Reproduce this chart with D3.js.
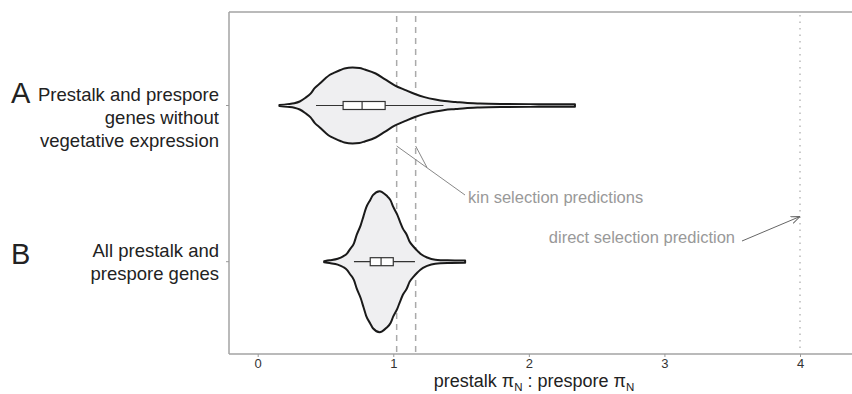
<!DOCTYPE html>
<html>
<head>
<meta charset="utf-8">
<script src="https://d3js.org/d3.v7.min.js"></script>
<style>
  body { margin: 0; background: #fff; }
  svg { display: block; font-family: "Liberation Sans", Arial, sans-serif; }
</style>
</head>
<body>
<svg id="chart"></svg>
<script>
//// DATA

// groups on the y axis, top to bottom
const groups = ["A", "B"];
const groupLabels = [
    ["Prestalk and prespore", "genes without", "vegetative expression"],
    ["All prestalk and", "prespore genes"]
];

// x axis
const xTicks = [0, 1, 2, 3, 4];
const xDomain = [0, 4];

// violin outlines: ratio value and density
const violinA_x = [0.16, 0.22, 0.27, 0.31, 0.35, 0.39, 0.42, 0.46, 0.50, 0.53, 0.57, 0.61, 0.64, 0.70, 0.75,
    0.79, 0.87, 0.94, 1.01, 1.09, 1.16, 1.23, 1.31, 1.38, 1.46, 1.53, 1.64, 1.79, 2.01, 2.34];
const violinA_density = [0, 0.04, 0.08, 0.16, 0.32, 0.52, 0.77, 0.99, 1.22, 1.37, 1.49, 1.60, 1.67, 1.71, 1.69,
    1.62, 1.44, 1.17, 0.90, 0.68, 0.50, 0.36, 0.25, 0.18, 0.14, 0.10, 0.07, 0.05, 0.04, 0.03];

const violinB_x = [0.49, 0.53, 0.59, 0.63, 0.66, 0.68, 0.71, 0.73, 0.76, 0.78, 0.80, 0.83, 0.85, 0.90, 0.92,
    0.95, 0.98, 1.00, 1.03, 1.05, 1.07, 1.10, 1.12, 1.15, 1.18, 1.20, 1.25, 1.31, 1.40, 1.53];
const violinB_density = [0, 0.04, 0.11, 0.22, 0.36, 0.54, 0.82, 1.20, 1.65, 2.05, 2.45, 2.80, 3.02, 3.20, 3.15,
    3.00, 2.78, 2.48, 2.12, 1.80, 1.50, 1.20, 0.90, 0.66, 0.46, 0.34, 0.17, 0.07, 0.04, 0.03];

// box plot stats per group
const whiskerLow = [0.43, 0.71];
const quartile1 = [0.63, 0.83];
const medians = [0.77, 0.91];
const quartile3 = [0.94, 1.00];
const whiskerHigh = [1.37, 1.16];

// reference lines
const kinPredictions = [1.025, 1.165];
const directPrediction = [4];


//// SETTINGS
const width = 852;
const height = 394;
const panel = { left: 229, top: 12, bottom: 354, right: 870 };

const svg = d3.select("#chart").attr("width", width).attr("height", height);

const x = d3.scaleLinear().domain(xDomain).range([257.7, 800]);
const y = d3.scalePoint().domain(groups).range([105.5, 261.7]);
const w = d3.scaleLinear().domain([0, 3.2]).range([0, 70]);

const violins = [
    d3.zip(violinA_x, violinA_density),
    d3.zip(violinB_x, violinB_density)
];


//// FUNCTION CALLS
drawPanel();
drawReferenceLines();
drawViolins();
drawBoxes();
drawAxes();
drawAnnotations();


//// FUNCTIONS
function drawPanel() {
    const g = svg.append("g").attr("class", "panel");
    g.append("line")
        .attr("x1", panel.left).attr("x2", panel.right)
        .attr("y1", panel.top).attr("y2", panel.top);
    g.append("line")
        .attr("x1", panel.left).attr("x2", panel.right)
        .attr("y1", panel.bottom).attr("y2", panel.bottom);
    g.append("line")
        .attr("x1", panel.left).attr("x2", panel.left)
        .attr("y1", panel.top).attr("y2", panel.bottom);
    g.selectAll("line")
        .style("stroke", "#a3a3a3")
        .style("stroke-width", "1.5px");
}

function drawReferenceLines() {
    svg.selectAll(".kin")
        .data(kinPredictions)
        .enter()
        .append("line")
        .attr("class", "kin")
        .attr("x1", d => x(d)).attr("x2", d => x(d))
        .attr("y1", panel.top + 4).attr("y2", panel.bottom)
        .style("stroke", "#aaa")
        .style("stroke-width", "1.5px")
        .style("stroke-dasharray", "6,5");

    svg.selectAll(".direct")
        .data(directPrediction)
        .enter()
        .append("line")
        .attr("class", "direct")
        .attr("x1", d => x(d)).attr("x2", d => x(d))
        .attr("y1", panel.top + 3).attr("y2", panel.bottom)
        .style("stroke", "#bbb")
        .style("stroke-width", "1.5px")
        .style("stroke-dasharray", "1.5,5");
}

function drawViolins() {
    violins.forEach(function (pts, i) {
        const yc = y(groups[i]);
        const area = d3.area()
            .x(d => x(d[0]))
            .y0(d => yc + w(d[1]) + 0.5)
            .y1(d => yc - w(d[1]) - 0.5)
            .curve(d3.curveMonotoneX);
        svg.append("path")
            .datum(pts)
            .attr("class", "violin")
            .attr("d", area)
            .style("fill", "#efeff1")
            .style("stroke", "#1a1a1a")
            .style("stroke-width", "2px")
            .style("stroke-linejoin", "round");
    });
}

function drawBoxes() {
    const boxH = 8;
    groups.forEach(function (grp, i) {
        const yc = y(grp);
        const g = svg.append("g").attr("class", "box");
        g.append("line")
            .attr("x1", x(whiskerLow[i])).attr("x2", x(whiskerHigh[i]))
            .attr("y1", yc).attr("y2", yc);
        g.append("rect")
            .attr("x", x(quartile1[i]))
            .attr("y", yc - boxH / 2)
            .attr("width", x(quartile3[i]) - x(quartile1[i]))
            .attr("height", boxH)
            .style("fill", "#fff");
        g.append("line")
            .attr("x1", x(medians[i])).attr("x2", x(medians[i]))
            .attr("y1", yc - boxH / 2).attr("y2", yc + boxH / 2);
        g.selectAll("line, rect")
            .style("stroke", "#333")
            .style("stroke-width", "1.2px");
    });
}

function drawAxes() {
    const xAxis = svg.append("g")
        .attr("transform", `translate(0,${panel.bottom})`)
        .call(d3.axisBottom(x).tickValues(xTicks).tickSize(3).tickPadding(2).tickFormat(d3.format("d")));
    xAxis.select(".domain").remove();
    xAxis.selectAll(".tick line").style("stroke", "#999");
    xAxis.selectAll(".tick text")
        .style("font-size", "13px")
        .style("fill", "#333")
        .style("font-family", "'Liberation Sans', Arial, sans-serif");

    // axis title with subscripts
    const title = svg.append("text")
        .attr("x", 534)
        .attr("y", 387)
        .attr("text-anchor", "middle")
        .style("font-size", "18px")
        .style("fill", "#222");
    title.append("tspan").text("prestalk \u03c0");
    title.append("tspan").attr("dy", 3.5).style("font-size", "11.5px").text("N");
    title.append("tspan").attr("dy", -3.5).text(" : prespore \u03c0");
    title.append("tspan").attr("dy", 3.5).style("font-size", "11.5px").text("N");

    // small y ticks
    svg.selectAll(".ytick")
        .data(groups)
        .enter()
        .append("line")
        .attr("x1", panel.left - 3).attr("x2", panel.left)
        .attr("y1", d => y(d)).attr("y2", d => y(d))
        .style("stroke", "#999");

    // group labels, right aligned
    const labels = svg.selectAll(".glabel")
        .data(groups)
        .enter()
        .append("text")
        .attr("class", "glabel")
        .attr("text-anchor", "end")
        .style("font-size", "18.5px")
        .style("fill", "#222");
    labels.each(function (d, i) {
        const lines = groupLabels[i];
        const top = y(d) - 5;
        d3.select(this).selectAll("tspan")
            .data(lines)
            .enter()
            .append("tspan")
            .attr("x", 219)
            .attr("y", (t, j) => top + j * 23)
            .text(t => t);
    });

    svg.selectAll(".letter")
        .data(groups)
        .enter()
        .append("text")
        .attr("class", "letter")
        .attr("x", 11)
        .attr("y", (d, i) => i === 0 ? y(d) - 3 : y(d) + 2.5)
        .style("font-size", "29px")
        .style("fill", "#222")
        .text(d => d);
}

function drawAnnotations() {
    const grey = "#999";
    // kin selection label with two leader lines
    svg.append("text")
        .attr("x", 468)
        .attr("y", 203)
        .style("font-size", "16.5px")
        .style("fill", grey)
        .text("kin selection predictions");
    svg.append("line")
        .attr("x1", 465).attr("y1", 195)
        .attr("x2", x(kinPredictions[0])).attr("y2", 146)
        .style("stroke", "#888").style("stroke-width", "1px");
    svg.append("line")
        .attr("x1", 427).attr("y1", 167.5)
        .attr("x2", x(kinPredictions[1])).attr("y2", 146)
        .style("stroke", "#888").style("stroke-width", "1px");

    // direct selection label with arrow
    svg.append("defs").append("marker")
        .attr("id", "arrow")
        .attr("viewBox", "0 0 10 10")
        .attr("refX", 10).attr("refY", 5)
        .attr("markerWidth", 9).attr("markerHeight", 9)
        .attr("markerUnits", "userSpaceOnUse")
        .attr("orient", "auto")
        .append("path")
        .attr("d", "M0,1 L10,5 L0,9")
        .style("fill", "none")
        .style("stroke", "#666")
        .style("stroke-width", "1px");

    svg.append("text")
        .attr("x", 735)
        .attr("y", 243)
        .attr("text-anchor", "end")
        .style("font-size", "16.5px")
        .style("fill", grey)
        .text("direct selection prediction");
    svg.append("line")
        .attr("x1", 742).attr("y1", 241)
        .attr("x2", x(directPrediction[0])).attr("y2", 216.5)
        .attr("marker-end", "url(#arrow)")
        .style("stroke", "#666").style("stroke-width", "1px");
}
</script>
</body>
</html>
